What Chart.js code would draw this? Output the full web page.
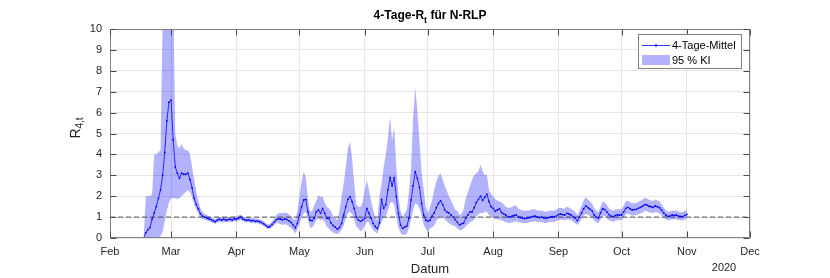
<!DOCTYPE html>
<html>
<head>
<meta charset="utf-8">
<script src="https://cdn.jsdelivr.net/npm/chart.js@4/dist/chart.umd.min.js"></script>
<style>
  html, body { margin: 0; padding: 0; background: #fff; }
  canvas { display: block; }
</style>
</head>
<body>
<canvas id="rtChart" width="830" height="278"></canvas>
<script>
// days counted from Feb 1 2020; first value is Feb 14
const firstDay = 13;
const monthDays = [0, 29, 60, 90, 121, 151, 182, 213, 243, 274, 304];
const monthLabels = ["Feb", "Mar", "Apr", "May", "Jun", "Jul", "Aug", "Sep", "Oct", "Nov", "Dec"];
const yTicks = [0, 1, 2, 3, 4, 5, 6, 7, 8, 9, 10];

// 4-Tage-Mittel
const meanR = [
  0, 0, 0, 0, 0.25, 0.4, 0.5, 0.9, 1.2, 1.5,
  1.9, 2.3, 3.0, 4.1, 5.6, 6.5, 6.6, 4.7, 3.4, 3.1,
  2.85, 3.1, 3.05, 3.05, 3.1, 2.8, 2.4, 1.9, 1.6, 1.4,
  1.15, 1.05, 1.0, 0.95, 0.92, 0.88, 0.83, 0.78, 0.85, 0.9,
  0.85, 0.9, 0.85, 0.88, 0.9, 0.86, 0.92, 0.9, 0.95, 1.0,
  0.92, 0.87, 0.85, 0.87, 0.82, 0.84, 0.8, 0.81, 0.78, 0.74,
  0.68, 0.6, 0.52, 0.55, 0.65, 0.76, 0.88, 0.92, 0.9, 0.87,
  0.92, 0.88, 0.82, 0.75, 0.62, 0.49, 0.7, 1.1, 1.5, 1.82,
  1.85, 1.26, 0.85, 0.83, 0.95, 1.26, 1.34, 1.18, 1.42, 1.18,
  0.94, 0.94, 0.72, 0.6, 0.52, 0.42, 0.5, 0.7, 1.1, 1.5,
  1.85, 1.98, 1.74, 1.42, 1.0, 0.86, 0.8, 0.86, 0.94, 1.42,
  1.18, 0.95, 0.7, 0.55, 0.46, 0.73, 1.85, 1.42, 1.6, 2.3,
  2.9, 2.49, 2.89, 1.98, 1.18, 0.62, 0.46, 0.52, 0.57, 0.94,
  1.82, 2.5, 3.17, 2.85, 2.42, 1.66, 1.1, 0.85, 0.8, 0.85,
  1.05, 1.2, 1.45, 1.65, 1.78, 1.6, 1.35, 1.25, 1.2, 1.1,
  1.0, 0.88, 0.75, 0.62, 0.68, 0.72, 0.95, 1.1, 1.25, 1.25,
  1.45, 1.7, 1.85, 2.0, 1.8, 1.95, 2.1, 1.75, 1.5, 1.42,
  1.28, 1.34, 1.4, 1.22, 1.15, 1.1, 1.02, 1.0, 1.05, 1.08,
  1.1, 1.0, 0.98, 0.95, 0.93, 0.95, 0.97, 1.0, 1.03, 1.05,
  1.0, 0.98, 1.0, 0.96, 0.94, 0.97, 1.0, 1.02, 1.0, 1.05,
  1.12, 1.15, 1.12, 1.1, 1.18, 1.15, 1.1, 1.02, 0.95, 0.83,
  1.0, 1.2, 1.4, 1.53, 1.45, 1.38, 1.3, 1.1, 1.0, 0.94,
  1.2, 1.4, 1.36, 1.25, 1.12, 1.05, 1.02, 1.08, 1.1, 1.1,
  1.1, 1.25, 1.42, 1.47, 1.4, 1.34, 1.36, 1.37, 1.42, 1.47,
  1.52, 1.6, 1.58, 1.52, 1.5, 1.47, 1.53, 1.5, 1.45, 1.33,
  1.2, 1.1, 1.03, 1.05, 1.1, 1.08, 1.1, 1.05, 1.03, 1.02,
  1.08, 1.13
];

// 95 % KI, lower edge
const loR = [
  0, 0, 0, 0, 0, 0, 0, 0, 0, 0,
  0, 0.1, 0.3, 0.8, 1.3, 1.7, 1.9, 1.9, 1.9, 1.85,
  1.9, 2.0, 2.1, 2.2, 2.3, 2.2, 1.95, 1.6, 1.35, 1.15,
  0.98, 0.92, 0.88, 0.83, 0.8, 0.77, 0.72, 0.68, 0.74, 0.78,
  0.74, 0.78, 0.74, 0.77, 0.78, 0.75, 0.8, 0.78, 0.83, 0.87,
  0.8, 0.76, 0.74, 0.76, 0.71, 0.73, 0.69, 0.7, 0.67, 0.63,
  0.58, 0.5, 0.42, 0.45, 0.53, 0.62, 0.7, 0.7, 0.66, 0.63,
  0.66, 0.62, 0.55, 0.48, 0.36, 0.22, 0.4, 0.7, 0.95, 1.18,
  1.26, 0.86, 0.5, 0.5, 0.65, 0.86, 0.94, 0.85, 0.9, 0.75,
  0.54, 0.45, 0.32, 0.26, 0.22, 0.19, 0.25, 0.4, 0.6, 0.95,
  1.2, 1.26, 1.15, 0.9, 0.55, 0.45, 0.32, 0.4, 0.6, 0.78,
  0.75, 0.55, 0.38, 0.28, 0.22, 0.5, 0.75, 1.0, 1.05, 1.3,
  1.66, 1.74, 1.6, 1.0, 0.5, 0.25, 0.14, 0.15, 0.2, 0.5,
  0.86, 1.34, 1.66, 1.6, 1.4, 1.1, 0.62, 0.45, 0.3, 0.45,
  0.52, 0.6, 0.8, 0.95, 1.05, 1.0, 0.9, 0.8, 0.72, 0.65,
  0.6, 0.55, 0.45, 0.38, 0.38, 0.45, 0.55, 0.65, 0.75, 0.8,
  0.9, 1.0, 1.15, 1.2, 1.2, 1.25, 1.26, 1.1, 1.0, 0.96,
  0.9, 0.9, 0.88, 0.85, 0.8, 0.75, 0.72, 0.72, 0.75, 0.78,
  0.8, 0.75, 0.74, 0.72, 0.7, 0.72, 0.74, 0.76, 0.78, 0.8,
  0.76, 0.75, 0.76, 0.73, 0.72, 0.74, 0.76, 0.78, 0.77, 0.8,
  0.86, 0.88, 0.86, 0.85, 0.9, 0.88, 0.85, 0.78, 0.72, 0.62,
  0.75, 0.92, 1.08, 1.15, 1.1, 1.05, 0.98, 0.82, 0.75, 0.7,
  0.9, 1.08, 1.05, 0.95, 0.85, 0.8, 0.78, 0.83, 0.85, 0.85,
  0.85, 0.98, 1.12, 1.17, 1.12, 1.07, 1.09, 1.1, 1.14, 1.18,
  1.22, 1.3, 1.28, 1.23, 1.21, 1.19, 1.24, 1.22, 1.18, 1.08,
  0.98, 0.9, 0.84, 0.86, 0.9, 0.88, 0.9, 0.86, 0.85, 0.84,
  0.89, 0.93
];

// 95 % KI, upper edge
const hiR = [
  0, 0, 0, 0, 2.0, 2.0, 2.0, 2.1, 4.0, 4.0,
  4.1, 4.2, 10.5, 12, 14, 15, 14, 12, 5.0, 4.4,
  4.3, 4.5, 4.3, 4.2, 4.2, 4.0, 3.4, 2.8, 2.2, 1.75,
  1.4, 1.25, 1.15, 1.1, 1.05, 1.0, 0.95, 0.9, 0.97, 1.02,
  0.97, 1.02, 0.98, 1.0, 1.02, 0.98, 1.05, 1.03, 1.08, 1.13,
  1.05, 1.0, 0.97, 0.99, 0.94, 0.96, 0.92, 0.93, 0.9, 0.86,
  0.8, 0.72, 0.64, 0.68, 0.79, 0.92, 1.1, 1.18, 1.2, 1.18,
  1.22, 1.2, 1.12, 1.05, 0.92, 0.86, 1.3, 2.0, 2.7, 3.17,
  2.9, 1.9, 1.25, 1.3, 1.55, 1.8, 2.06, 1.95, 2.0, 1.7,
  1.5, 1.4, 1.28, 1.05, 0.95, 0.86, 1.3, 2.0, 2.6, 3.4,
  4.3, 4.6, 3.8, 2.6, 1.6, 1.5, 1.5, 1.7, 2.3, 2.78,
  2.3, 1.8, 1.34, 1.0, 0.86, 2.0, 2.6, 3.4, 4.0, 4.8,
  5.8, 4.7, 5.3, 3.4, 2.0, 1.3, 1.0, 1.2, 1.34, 2.2,
  3.4, 5.8, 7.2, 6.1, 4.6, 3.2, 2.3, 1.5, 1.2, 1.5,
  1.8, 2.3, 2.7, 2.95, 3.1, 2.8, 2.5, 2.25, 2.0, 1.8,
  1.55, 1.35, 1.3, 1.1, 1.15, 1.4, 1.9, 2.2, 2.5, 2.8,
  3.0, 3.1, 3.2, 3.5, 3.2, 3.0, 3.05, 2.3, 2.1, 2.0,
  1.85, 1.8, 1.75, 1.7, 1.6, 1.5, 1.45, 1.45, 1.5, 1.55,
  1.55, 1.4, 1.35, 1.32, 1.3, 1.32, 1.32, 1.35, 1.38, 1.38,
  1.32, 1.3, 1.32, 1.28, 1.25, 1.28, 1.3, 1.32, 1.3, 1.35,
  1.42, 1.45, 1.42, 1.4, 1.5, 1.46, 1.4, 1.32, 1.25, 1.1,
  1.3, 1.55, 1.8, 1.95, 1.85, 1.75, 1.65, 1.42, 1.3, 1.22,
  1.5, 1.75, 1.7, 1.58, 1.42, 1.35, 1.3, 1.36, 1.38, 1.38,
  1.38, 1.55, 1.75, 1.8, 1.72, 1.65, 1.67, 1.68, 1.73, 1.78,
  1.84, 1.92, 1.9, 1.83, 1.8, 1.77, 1.84, 1.8, 1.75, 1.6,
  1.46, 1.34, 1.25, 1.27, 1.32, 1.3, 1.32, 1.27, 1.25, 1.23,
  1.3, 1.35
];

const FONT = "'Liberation Sans', Arial, Helvetica, sans-serif";
const BLUE = "#0000ff";
const BAND = "rgba(0,0,255,0.3)";

const toPoints = arr => arr.map((v, i) => ({ x: firstDay + i, y: v }));

// MATLAB-like box, inward ticks, title, labels and legend
const frame = {
  id: "frame",
  afterDraw(chart) {
    const ctx = chart.ctx;
    const { left, right, top, bottom } = chart.chartArea;
    const xs = chart.scales.x, ys = chart.scales.y;
    const L = Math.round(left) + 0.5, R = Math.round(right) - 0.5;
    const T = Math.round(top) + 0.5, B = Math.round(bottom) - 0.5;

    ctx.save();
    ctx.strokeStyle = "#808080";
    ctx.lineWidth = 1;
    ctx.strokeRect(L, T, R - L, B - T);

    ctx.strokeStyle = "#4a4a4a";
    ctx.beginPath();
    for (const d of monthDays) {
      const x = Math.round(xs.getPixelForValue(d)) + 0.5;
      ctx.moveTo(x, B); ctx.lineTo(x, B - 6);
      ctx.moveTo(x, T); ctx.lineTo(x, T + 6);
    }
    for (const v of yTicks) {
      const y = Math.round(ys.getPixelForValue(v)) + 0.5;
      ctx.moveTo(L, y); ctx.lineTo(L + 6, y);
      ctx.moveTo(R, y); ctx.lineTo(R - 6, y);
    }
    ctx.stroke();

    // title with subscript t
    ctx.fillStyle = "#000";
    ctx.textBaseline = "alphabetic";
    ctx.textAlign = "left";
    const big = "bold 12px " + FONT, small = "bold 9px " + FONT;
    ctx.font = big;
    const w1 = ctx.measureText("4-Tage-R").width;
    const w3 = ctx.measureText(" für N-RLP").width;
    ctx.font = small;
    const w2 = ctx.measureText("t").width;
    let tx = 430 - (w1 + w2 + w3) / 2;
    ctx.font = big;
    ctx.fillText("4-Tage-R", tx, 19);
    ctx.font = small;
    ctx.fillText("t", tx + w1, 23);
    ctx.font = big;
    ctx.fillText(" für N-RLP", tx + w1 + w2, 19);

    // x label and year
    ctx.fillStyle = "#262626";
    ctx.textAlign = "center";
    ctx.textBaseline = "middle";
    ctx.font = "13px " + FONT;
    ctx.fillText("Datum", 430, 269);
    ctx.font = "11px " + FONT;
    ctx.fillText("2020", 724, 268);

    // y label R_{4,t}
    ctx.save();
    ctx.translate(80, 128);
    ctx.rotate(-Math.PI / 2);
    ctx.textAlign = "left";
    ctx.textBaseline = "alphabetic";
    ctx.font = "14px " + FONT;
    const rw = ctx.measureText("R").width;
    ctx.font = "10px " + FONT;
    const sw = ctx.measureText("4,t").width;
    const sx = -(rw + sw) / 2;
    ctx.font = "14px " + FONT;
    ctx.fillText("R", sx, 0);
    ctx.font = "10px " + FONT;
    ctx.fillText("4,t", sx + rw, 3);
    ctx.restore();

    // legend
    ctx.fillStyle = "#fff";
    ctx.fillRect(638, 34, 103, 34);
    ctx.strokeStyle = "#808080";
    ctx.strokeRect(638.5, 34.5, 103, 34);
    ctx.strokeStyle = BLUE;
    ctx.lineWidth = 0.8;
    ctx.beginPath();
    ctx.moveTo(642, 45.5); ctx.lineTo(670, 45.5);
    ctx.stroke();
    ctx.fillStyle = BLUE;
    ctx.beginPath();
    ctx.arc(656, 45.5, 1.2, 0, Math.PI * 2);
    ctx.fill();
    ctx.fillStyle = BAND;
    ctx.fillRect(642, 55, 28, 10);
    ctx.fillStyle = "#000";
    ctx.textAlign = "left";
    ctx.textBaseline = "middle";
    ctx.font = "11px " + FONT;
    ctx.fillText("4-Tage-Mittel", 672, 45.5);
    ctx.fillText("95 % KI", 672, 60.5);
    ctx.restore();
  }
};

const tickFont = { family: FONT, size: 11 };

new Chart(document.getElementById("rtChart").getContext("2d"), {
  type: "line",
  data: {
    datasets: [
      {
        label: "4-Tage-Mittel",
        data: toPoints(meanR),
        borderColor: BLUE,
        borderWidth: 0.8,
        pointRadius: 0.9,
        pointBackgroundColor: BLUE,
        pointBorderWidth: 0,
        fill: false,
        tension: 0
      },
      {
        label: "R = 1",
        data: [{ x: monthDays[0], y: 1 }, { x: monthDays[monthDays.length - 1], y: 1 }],
        borderColor: "#4d4d4d",
        borderWidth: 1,
        borderDash: [5, 3],
        pointRadius: 0,
        fill: false
      },
      {
        label: "95 % KI",
        data: toPoints(hiR),
        borderColor: "rgba(0,0,0,0)",
        borderWidth: 0,
        pointRadius: 0,
        backgroundColor: BAND,
        fill: "+1",
        tension: 0
      },
      {
        label: "KI unten",
        data: toPoints(loR),
        borderColor: "rgba(0,0,0,0)",
        borderWidth: 0,
        pointRadius: 0,
        fill: false,
        tension: 0
      }
    ]
  },
  options: {
    responsive: false,
    animation: false,
    devicePixelRatio: 1,
    layout: { padding: { top: 29, right: 80, left: 0, bottom: 0 } },
    plugins: { legend: { display: false }, tooltip: { enabled: false } },
    scales: {
      x: {
        type: "linear",
        min: monthDays[0],
        max: monthDays[monthDays.length - 1],
        afterBuildTicks: s => { s.ticks = monthDays.map(v => ({ value: v })); },
        afterFit: s => { s.height = 40; },
        ticks: {
          callback: v => monthLabels[monthDays.indexOf(v)],
          font: tickFont,
          color: "#262626",
          padding: 7,
          maxRotation: 0,
          autoSkip: false
        },
        grid: { color: "#e6e6e6", drawTicks: false },
        border: { display: false }
      },
      y: {
        min: 0,
        max: 10,
        afterBuildTicks: s => { s.ticks = yTicks.map(v => ({ value: v })); },
        afterFit: s => { s.width = 110; },
        ticks: { font: tickFont, color: "#262626", padding: 8 },
        grid: { color: "#e6e6e6", drawTicks: false },
        border: { display: false }
      }
    }
  },
  plugins: [frame]
});
</script>
</body>
</html>
